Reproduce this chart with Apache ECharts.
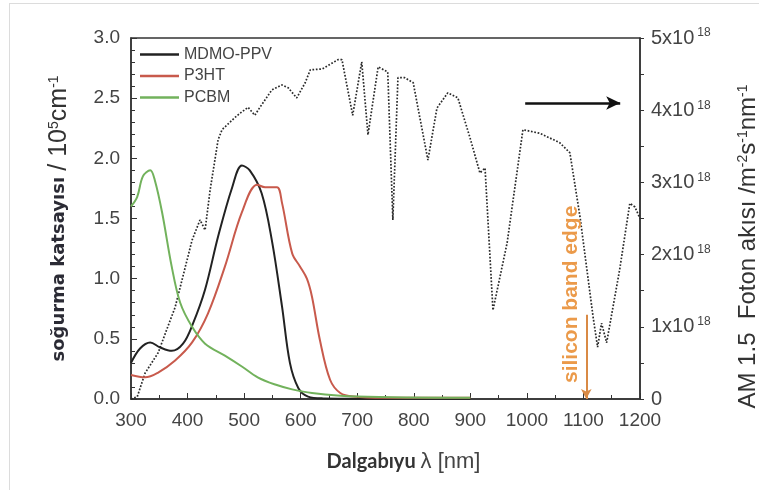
<!DOCTYPE html>
<html>
<head>
<meta charset="utf-8">
<script src="https://cdn.jsdelivr.net/npm/echarts@6/dist/echarts.min.js"></script>
<style>
  html, body { margin: 0; padding: 0; background: #fff; }
  #wrap { position: relative; width: 759px; height: 490px; }
  #frame { position: absolute; left: 9px; top: 3px; right: 0; bottom: 0; border-left: 1px solid #dcdcdc; border-top: 1px solid #dcdcdc; }
  #chart { position: absolute; left: 0; top: 0; width: 759px; height: 490px; }
</style>
</head>
<body>
<div id="wrap">
  <div id="frame"></div>
  <div id="chart"></div>
</div>
<script>
// absorption coefficient, 10^5 cm^-1
const mdmoNm = [300, 316, 334, 351, 372, 392, 409, 431, 454, 479, 496, 510, 531, 549, 567, 581, 596, 613, 640, 700, 900]
const mdmoVal = [0.30, 0.42, 0.47, 0.43, 0.40, 0.46, 0.62, 0.91, 1.35, 1.76, 1.94, 1.90, 1.71, 1.32, 0.77, 0.30, 0.09, 0.02, 0.005, 0.003, 0.003]

const p3htNm = [300, 325, 348, 378, 408, 436, 466, 496, 523, 537, 558, 567, 585, 599, 611, 620, 634, 652, 670, 693, 750, 900]
const p3htVal = [0.20, 0.18, 0.22, 0.32, 0.47, 0.71, 1.10, 1.55, 1.78, 1.76, 1.76, 1.63, 1.21, 1.10, 1.00, 0.85, 0.49, 0.16, 0.05, 0.02, 0.01, 0.01]

const pcbmNm = [300, 311, 321, 334, 342, 355, 372, 387, 408, 431, 466, 496, 524, 555, 585, 620, 700, 900]
const pcbmVal = [1.60, 1.68, 1.85, 1.90, 1.82, 1.55, 1.10, 0.80, 0.60, 0.46, 0.36, 0.27, 0.18, 0.12, 0.08, 0.05, 0.02, 0.01]

// AM 1.5 photon flux, 10^18 m^-2 s^-1 nm^-1
const amNm = [300, 311, 325, 348, 365, 378, 408, 417, 422, 431, 440, 454, 461, 484, 493, 507, 519, 528, 549, 567, 578, 593, 608, 617, 638, 666, 673, 692, 708, 719, 737, 754, 763, 772, 784, 799, 825, 841, 860, 878, 899, 917, 926, 940, 965, 993, 1023, 1058, 1076, 1094, 1117, 1125, 1132, 1141, 1164, 1182, 1191, 1200]
const amVal = [0.00, 0.03, 0.36, 0.64, 1.00, 1.27, 2.20, 2.38, 2.48, 2.34, 2.90, 3.59, 3.73, 3.90, 3.96, 4.04, 3.93, 4.04, 4.28, 4.35, 4.31, 4.17, 4.38, 4.56, 4.57, 4.70, 4.70, 3.93, 4.67, 3.66, 4.60, 4.53, 2.48, 4.45, 4.45, 4.38, 3.31, 4.03, 4.24, 4.17, 3.63, 3.13, 3.20, 1.23, 2.16, 3.73, 3.68, 3.55, 3.41, 2.52, 1.14, 0.72, 1.05, 0.78, 1.79, 2.71, 2.66, 2.50]

const xTicks = [300, 400, 500, 600, 700, 800, 900, 1000, 1100, 1200]
const leftTicks = ['0.0', '0.5', '1.0', '1.5', '2.0', '2.5', '3.0']
const rightTicks = ['0', '1x10', '2x10', '3x10', '4x10', '5x10']

// annotations (data coordinates)
const fluxArrow = [[997, 4.1], [1165, 4.1]]
const siliconArrow = [[1105, 0.70], [1105, 0.0]]
const siliconLabelAt = [1079, 0.87]

const pairs = (xs, ys) => xs.map((x, i) => [x, ys[i]])

const labelFont = 'Liberation Sans'

const chart = echarts.init(document.getElementById('chart'))
chart.setOption({
  animation: false,
  grid: {
    left: 131, right: 119, top: 38, bottom: 91,
    outerBoundsMode: 'none',
    show: true, borderColor: '#333', borderWidth: 1.5
  },
  legend: {
    data: ['MDMO-PPV', 'P3HT', 'PCBM'],
    orient: 'vertical',
    left: 135,
    top: 41,
    icon: 'rect',
    itemWidth: 39,
    itemHeight: 2.5,
    itemGap: 4.5,
    textStyle: { fontFamily: labelFont, fontSize: 16, lineHeight: 17, color: '#444' }
  },
  xAxis: {
    type: 'value',
    min: 300,
    max: 1200,
    interval: 100,
    name: '{b|Dalgabıyu }{r|λ [nm]}',
    nameLocation: 'middle',
    nameGap: 52,
    nameTextStyle: {
      padding: [0, 0, 0, 36],
      rich: {
        b: { fontFamily: 'Lato', fontWeight: 'bold', fontSize: 20, color: '#333' },
        r: { fontFamily: labelFont, fontSize: 22, color: '#444' }
      }
    },
    axisLine: { lineStyle: { color: '#333', width: 1.5 } },
    axisTick: { inside: true, length: 6, lineStyle: { color: '#333' } },
    minorTick: { show: true, splitNumber: 2, length: 4, lineStyle: { color: '#333' } },
    splitLine: { show: false },
    axisLabel: {
      margin: 12,
      fontFamily: labelFont, fontSize: 19, color: '#444',
      formatter: v => xTicks.includes(v) ? String(v) : ''
    }
  },
  yAxis: [
    {
      type: 'value',
      min: 0,
      max: 3,
      interval: 0.5,
      name: '{b|soğurma katsayısı }{r|/ 10}{s|5}{r|cm}{s|-1}',
      nameLocation: 'middle',
      nameGap: 59,
      nameRotate: 90,
      nameTextStyle: {
        padding: [0, 0, 0, 0],
        rich: {
          b: { fontFamily: 'DejaVu Sans', fontWeight: 'bold', fontSize: 18, color: '#2b2b35' },
          r: { fontFamily: labelFont, fontSize: 25, color: '#333' },
          s: { fontFamily: labelFont, fontSize: 14, color: '#333', verticalAlign: 'top' }
        }
      },
      axisLine: { show: true, lineStyle: { color: '#333', width: 1.5 } },
      axisTick: { inside: true, length: 6, lineStyle: { color: '#333' } },
      minorTick: { show: true, splitNumber: 5, length: 4, lineStyle: { color: '#333' } },
      splitLine: { show: false },
      axisLabel: {
        margin: 11,
        fontFamily: labelFont, fontSize: 19, color: '#444',
        formatter: v => leftTicks[Math.round(v * 2)]
      }
    },
    {
      type: 'value',
      min: 0,
      max: 5,
      interval: 1,
      position: 'right',
      name: '{r|AM 1.5  Foton akısı /m}{s|-2}{r|s}{s|-1}{r|nm}{s|-1}',
      nameLocation: 'middle',
      nameGap: 96,
      nameRotate: 90,
      nameTextStyle: {
        padding: [0, 56, 0, 0],
        rich: {
          r: { fontFamily: labelFont, fontSize: 24, color: '#333' },
          s: { fontFamily: labelFont, fontSize: 14, color: '#333', verticalAlign: 'top' }
        }
      },
      axisLine: { show: true, lineStyle: { color: '#333', width: 1.5 } },
      axisTick: { inside: false, length: 4, lineStyle: { color: '#333' } },
      minorTick: { show: true, splitNumber: 2, length: 4, lineStyle: { color: '#333' } },
      splitLine: { show: false },
      axisLabel: {
        margin: 11,
        formatter: v => v === 0 ? '{b|0}' : '{b|' + rightTicks[v] + '}{s|18}',
        rich: {
          b: { fontFamily: labelFont, fontSize: 20, color: '#444' },
          s: { fontFamily: labelFont, fontSize: 12, color: '#444', verticalAlign: 'top', padding: [0, 0, 10, 3] }
        }
      }
    }
  ],
  series: [
    {
      name: 'AM 1.5',
      type: 'line',
      yAxisIndex: 1,
      symbol: 'none',
      data: pairs(amNm, amVal),
      lineStyle: { color: '#2a2a2a', width: 1.7, type: 'dotted' },
      z: 1,
      markLine: {
        silent: true,
        symbol: ['none', 'arrow'],
        symbolSize: [10, 14],
        label: { show: false },
        lineStyle: { color: '#111', width: 2.5, type: 'solid' },
        data: [[{ coord: fluxArrow[0] }, { coord: fluxArrow[1] }]]
      }
    },
    {
      name: 'MDMO-PPV',
      type: 'line',
      symbol: 'none',
      smooth: 0.35,
      data: pairs(mdmoNm, mdmoVal),
      lineStyle: { color: '#222', width: 2 },
      itemStyle: { color: '#222' },
      z: 3
    },
    {
      name: 'P3HT',
      type: 'line',
      symbol: 'none',
      smooth: 0.35,
      data: pairs(p3htNm, p3htVal),
      lineStyle: { color: '#c85a4c', width: 2 },
      itemStyle: { color: '#c85a4c' },
      z: 3
    },
    {
      name: 'PCBM',
      type: 'line',
      symbol: 'none',
      smooth: 0.35,
      data: pairs(pcbmNm, pcbmVal),
      lineStyle: { color: '#72b25c', width: 2 },
      itemStyle: { color: '#72b25c' },
      z: 3,
      markLine: {
        silent: true,
        symbol: ['none', 'arrow'],
        symbolSize: [8, 10],
        label: { show: false },
        lineStyle: { color: '#d98a45', width: 2, type: 'solid' },
        data: [[{ coord: siliconArrow[0] }, { coord: siliconArrow[1] }]]
      },
      markPoint: {
        silent: true,
        symbol: 'circle',
        symbolSize: 0,
        data: [{ coord: siliconLabelAt, value: 'silicon band edge' }],
        label: {
          show: true,
          position: 'inside',
          rotate: 90,
          formatter: 'silicon band edge',
          fontFamily: labelFont,
          fontWeight: 'bold',
          fontSize: 21,
          color: '#eb9a4a'
        }
      }
    }
  ]
})
</script>
</body>
</html>
